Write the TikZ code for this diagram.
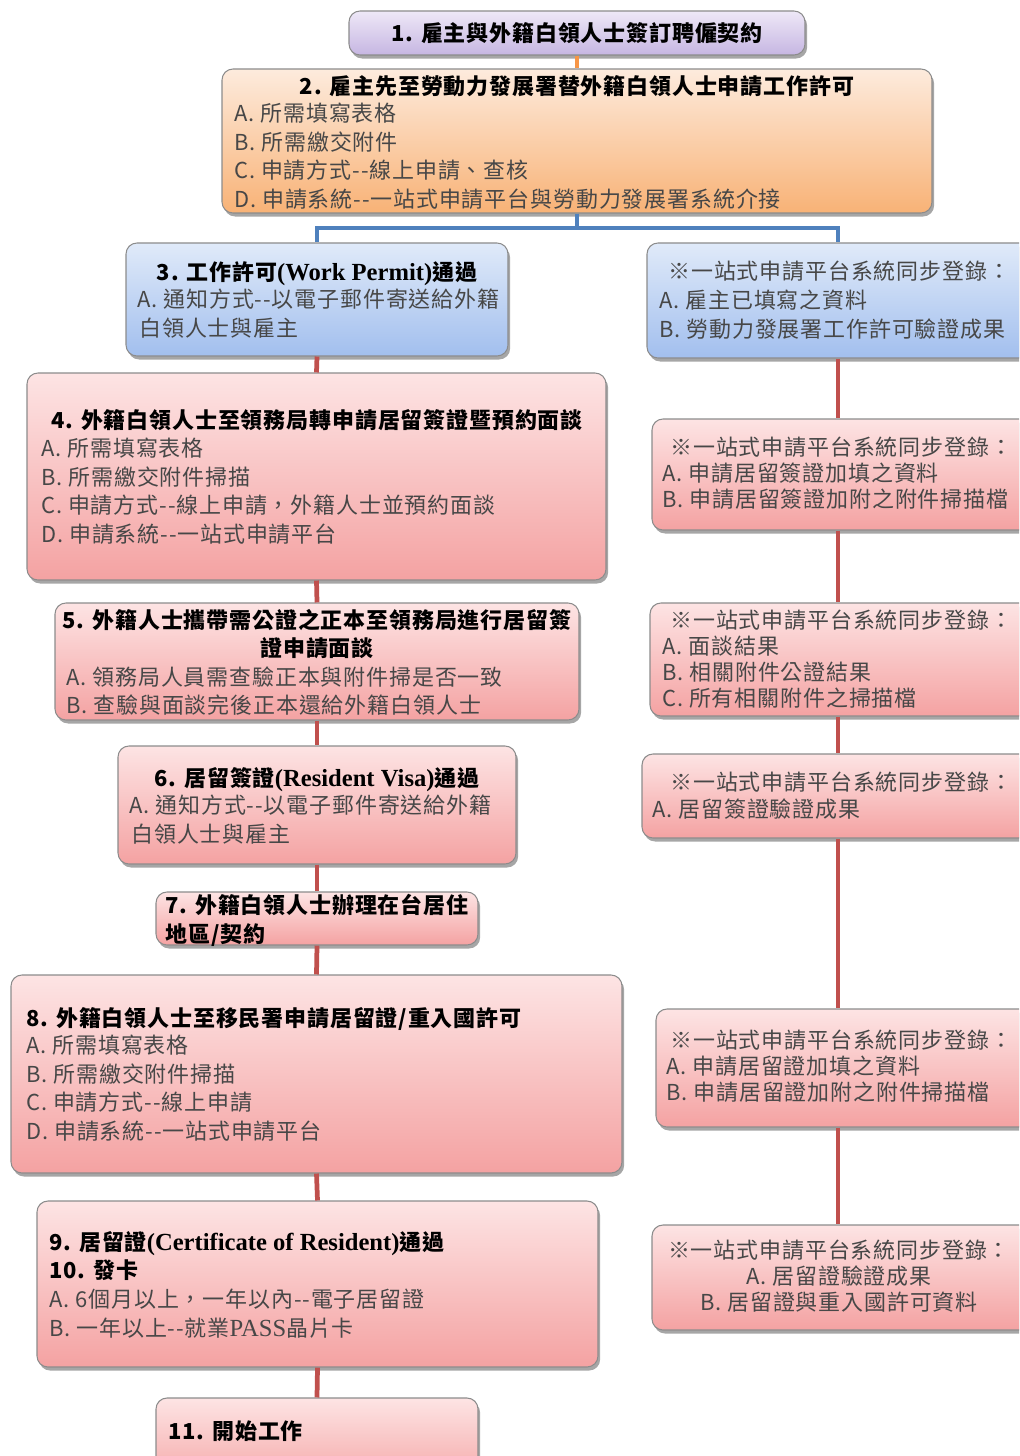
\documentclass[tikz,border=0pt]{standalone}
\usepackage{fontspec}
\setmainfont{Noto Sans CJK TC}[LetterSpace=4]
\newfontfamily\latinserif{Liberation Serif}
\usetikzlibrary{shadows,fit}
\definecolor{lineblue}{HTML}{4F81BD}
\definecolor{linered}{HTML}{C0504D}
\definecolor{lineorange}{HTML}{F79646}
\definecolor{purpletop}{HTML}{EEE8F7}
\definecolor{purplebot}{HTML}{C6B6E2}
\definecolor{orangetop}{HTML}{FDEBDD}
\definecolor{orangebot}{HTML}{F8B276}
\definecolor{bluetop}{HTML}{E0EAF9}
\definecolor{bluebot}{HTML}{A2BFEE}
\definecolor{pinktop}{HTML}{FDE4E4}
\definecolor{pinkbot}{HTML}{F4A2A2}
\newcommand\bodysz{\fontsize{12.5}{16.2}\selectfont}
\newcommand\tightsz{\fontsize{12.5}{14.8}\selectfont}
\newcommand\lat[1]{{\latinserif\fontsize{14}{16}\selectfont #1}}
\tikzset{
  box/.style={draw=black!45, line width=0.6pt, rounded corners=0.22cm, inner sep=0pt,
    drop shadow={shadow xshift=1.2pt, shadow yshift=-2pt, opacity=0.35, fill=black}},
  purplebox/.style={box, top color=purpletop, bottom color=purplebot},
  orangebox/.style={box, top color=orangetop, bottom color=orangebot},
  bluebox/.style={box, top color=bluetop, bottom color=bluebot},
  pinkbox/.style={box, top color=pinktop, bottom color=pinkbot},
  head/.style={font=\bodysz\bfseries, text=black, inner sep=0pt, align=center},
  headl/.style={font=\bodysz\bfseries, text=black, inner sep=0pt, align=left, anchor=north west},
  body/.style={font=\bodysz, text=black!72, inner sep=0pt, align=left, anchor=north west},
  rbody/.style={font=\tightsz, text=black!72, inner sep=0pt, align=left, anchor=north west},
  blueline/.style={draw=lineblue, line width=2.4pt},
  redline/.style={draw=linered, line width=2.7pt},
  orangeline/.style={draw=lineorange, line width=2.4pt}
}
\begin{document}
\begin{tikzpicture}[x=0.02cm,y=-0.02cm]
\useasboundingbox (0,0) rectangle (1019,1456);
\clip (0,0) rectangle (1019,1456);
% ---------- boxes ----------
\node[purplebox, fit={(349,11) (805,55)}] (n1) {};
\node[orangebox, fit={(222,69) (932,213)}] (n2) {};
\node[bluebox, fit={(126,243) (508,356)}] (n3) {};
\node[bluebox, fit={(647,243) (1035,358)}] (r1) {};
\node[pinkbox, fit={(27,373) (606,580)}] (n4) {};
\node[pinkbox, fit={(652,419) (1035,530)}] (r2) {};
\node[pinkbox, fit={(55,603) (579,720)}] (n5) {};
\node[pinkbox, fit={(650,603) (1035,716)}] (r3) {};
\node[pinkbox, fit={(118,746) (516,864)}] (n6) {};
\node[pinkbox, fit={(642,754) (1035,838)}] (r4) {};
\node[pinkbox, fit={(156,892) (478,945)}] (n7) {};
\node[pinkbox, fit={(11,975) (622,1173)}] (n8) {};
\node[pinkbox, fit={(656,1009) (1035,1127)}] (r5) {};
\node[pinkbox, fit={(37,1201) (598,1367)}] (n9) {};
\node[pinkbox, fit={(652,1225) (1035,1330)}] (r6) {};
\node[pinkbox, fit={(156,1398) (478,1490)}] (n11) {};
% ---------- texts ----------
\node[head] (h1) at (577,33) {1. 雇主與外籍白領人士簽訂聘僱契約};
\node[head, anchor=north] (h2) at (577,75) {2. 雇主先至勞動力發展署替外籍白領人士申請工作許可};
\node[body] (b2) at (234,103) {A. 所需填寫表格\\B. 所需繳交附件\\C. 申請方式-{}-線上申請、查核\\D. 申請系統-{}-一站式申請平台與勞動力發展署系統介接};
\node[head, anchor=north] (h3) at (317,261) {3. 工作許可\lat{(Work Permit)}通過};
\node[body] (b3) at (137,289) {A. 通知方式-{}-以電子郵件寄送給外籍\\\hspace{0.04cm}白領人士與雇主};
\node[body, font=\fontsize{12.5}{16.4}\selectfont] (t1) at (659,261) {\hspace{0.18cm}※一站式申請平台系統同步登錄：\\A. 雇主已填寫之資料\\B. 勞動力發展署工作許可驗證成果};
\node[head, anchor=north] (h4) at (317,409) {4. 外籍白領人士至領務局轉申請居留簽證暨預約面談};
\node[body] (b4) at (41,438) {A.\ 所需填寫表格\\B.\ 所需繳交附件掃描\\C. 申請方式-{}-線上申請，外籍人士並預約面談\\D. 申請系統-{}-一站式申請平台};
\node[rbody] (t2) at (662,437) {\hspace{0.16cm}※一站式申請平台系統同步登錄：\\A. 申請居留簽證加填之資料\\B. 申請居留簽證加附之附件掃描檔};
\node[head, anchor=north] (h5) at (317,609) {5. 外籍人士攜帶需公證之正本至領務局進行居留簽\\證申請面談};
\node[body] (b5) at (66,666) {A. 領務局人員需查驗正本與附件掃是否一致\\B. 查驗與面談完後正本還給外籍白領人士};
\node[rbody] (t3) at (662,610) {\hspace{0.16cm}※一站式申請平台系統同步登錄：\\A. 面談結果\\B. 相關附件公證結果\\C. 所有相關附件之掃描檔};
\node[head, anchor=north] (h6) at (317,767) {6. 居留簽證\lat{(Resident Visa)}通過};
\node[body] (b6) at (129,795) {A. 通知方式-{}-以電子郵件寄送給外籍\\\hspace{0.04cm}白領人士與雇主};
\node[rbody, font=\fontsize{12.5}{15.3}\selectfont] (t4) at (652,772) {\hspace{0.36cm}※一站式申請平台系統同步登錄：\\A. 居留簽證驗證成果};
\node[headl] (h7) at (165,894) {7. 外籍白領人士辦理在台居住\\地區/契約};
\node[headl] (h8) at (26,1007) {8. 外籍白領人士至移民署申請居留證/重入國許可};
\node[body] (b8) at (26,1035) {A.\ 所需填寫表格\\B.\ 所需繳交附件掃描\\C. 申請方式-{}-線上申請\\D. 申請系統-{}-一站式申請平台};
\node[rbody] (t5) at (666,1030) {\hspace{0.08cm}※一站式申請平台系統同步登錄：\\A. 申請居留證加填之資料\\B. 申請居留證加附之附件掃描檔};
\node[headl] (h9) at (49,1231) {9. 居留證\lat{(Certificate of Resident)}通過\\10. 發卡};
\node[body] (b9) at (49,1289) {A. 6個月以上，一年以內-{}-電子居留證\\B. 一年以上-{}-就業\lat{PASS}晶片卡};
\node[rbody, align=center, anchor=north] (t6) at (839,1240) {※一站式申請平台系統同步登錄：\\A. 居留證驗證成果\\B. 居留證與重入國許可資料};
\node[headl] (h11) at (168,1420) {11. 開始工作};
% ---------- connectors ----------
\coordinate (spine) at (838,0);
\coordinate (split) at (577,228);
\draw[orangeline] (n1.south) -- (n2.north);
\draw[blueline] (n2.south) -- (split);
\draw[blueline] (split) -| (n3.north);
\draw[blueline] (split) -| (r1.north -| spine);
\draw[redline] (n3.south) -- (n4.north);
\draw[redline] (n4.south) -- (n5.north);
\draw[redline] (n5.south) -- (n6.north);
\draw[redline] (n6.south) -- (n7.north);
\draw[redline] (n7.south) -- (n8.north);
\draw[redline] (n8.south) -- (n9.north);
\draw[redline] (n9.south) -- (n11.north);
\draw[redline] (r1.south -| spine) -- (r2.north -| spine);
\draw[redline] (r2.south -| spine) -- (r3.north -| spine);
\draw[redline] (r3.south -| spine) -- (r4.north -| spine);
\draw[redline] (r4.south -| spine) -- (r5.north -| spine);
\draw[redline] (r5.south -| spine) -- (r6.north -| spine);
\end{tikzpicture}
\end{document}
